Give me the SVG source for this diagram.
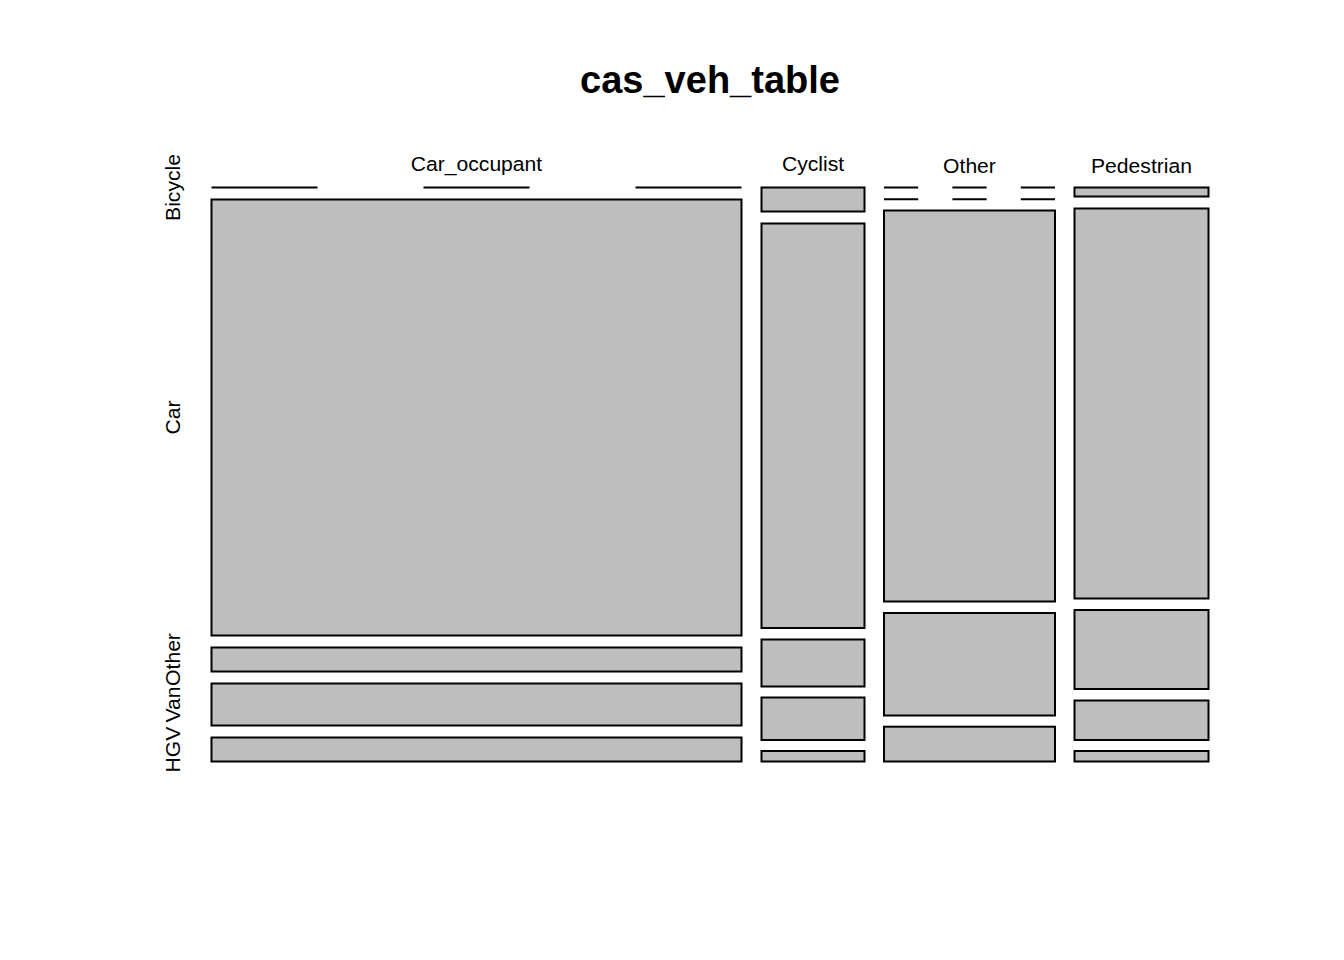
<svg xmlns="http://www.w3.org/2000/svg" width="1344" height="960" viewBox="0 0 1344 960">
<style>
.cell{fill:#BEBEBE;stroke:#000;stroke-width:2}
.zero{stroke:#000;stroke-width:2;fill:none}
.lbl{font-family:"Liberation Sans",Arial,Helvetica,sans-serif;font-size:21.12px;fill:#000}
.title{font-family:"Liberation Sans",Arial,Helvetica,sans-serif;font-size:38px;font-weight:bold;fill:#000}
</style>
<rect x="0" y="0" width="1344" height="960" fill="#fff"/>
<text class="title" x="710" y="93" text-anchor="middle">cas_veh_table</text>
<g id="x-labels">
<text class="lbl" x="476.5" y="171" text-anchor="middle">Car_occupant</text>
<text class="lbl" x="813" y="171" text-anchor="middle">Cyclist</text>
<text class="lbl" x="969.5" y="173" text-anchor="middle">Other</text>
<text class="lbl" x="1141.5" y="173" text-anchor="middle">Pedestrian</text>
</g>
<g id="y-labels">
<text class="lbl" transform="translate(179.5,187.5) rotate(-90)" text-anchor="middle">Bicycle</text>
<text class="lbl" transform="translate(179.5,417.5) rotate(-90)" text-anchor="middle">Car</text>
<text class="lbl" transform="translate(179.5,659.5) rotate(-90)" text-anchor="middle">Other</text>
<text class="lbl" transform="translate(179.5,704.5) rotate(-90)" text-anchor="middle">Van</text>
<text class="lbl" transform="translate(179.5,749.5) rotate(-90)" text-anchor="middle">HGV</text>
</g>
<g id="col-car-occupant">
<g id="co-bicycle"><path class="zero" d="M211.5 187.5H317.5M423.5 187.5H529.5M635.5 187.5H741.5"/></g>
<rect id="co-car" class="cell" x="211.5" y="199.5" width="530" height="436"/>
<rect id="co-other" class="cell" x="211.5" y="647.5" width="530" height="24"/>
<rect id="co-van" class="cell" x="211.5" y="683.5" width="530" height="42"/>
<rect id="co-hgv" class="cell" x="211.5" y="737.5" width="530" height="24"/>
</g>
<g id="col-cyclist">
<rect id="cy-bicycle" class="cell" x="761.5" y="187.5" width="103" height="24"/>
<rect id="cy-car" class="cell" x="761.5" y="223.5" width="103" height="404.5"/>
<rect id="cy-other" class="cell" x="761.5" y="639.5" width="103" height="47"/>
<rect id="cy-van" class="cell" x="761.5" y="697.5" width="103" height="42.5"/>
<rect id="cy-hgv" class="cell" x="761.5" y="751" width="103" height="10.5"/>
</g>
<g id="col-other">
<g id="ot-bicycle"><path class="zero" d="M884 187.5H918.2M952.4 187.5H986.6M1020.8 187.5H1055"/></g>
<g id="ot-car0"><path class="zero" d="M884 199.2H918.2M952.4 199.2H986.6M1020.8 199.2H1055"/></g>
<rect id="ot-r1" class="cell" x="884" y="210.5" width="171" height="391"/>
<rect id="ot-r2" class="cell" x="884" y="613" width="171" height="102.5"/>
<rect id="ot-r3" class="cell" x="884" y="726.7" width="171" height="34.8"/>
</g>
<g id="col-pedestrian">
<rect id="pe-bicycle" class="cell" x="1074.5" y="187.5" width="134" height="9"/>
<rect id="pe-car" class="cell" x="1074.5" y="208.5" width="134" height="390"/>
<rect id="pe-other" class="cell" x="1074.5" y="610" width="134" height="79"/>
<rect id="pe-van" class="cell" x="1074.5" y="700.5" width="134" height="39.5"/>
<rect id="pe-hgv" class="cell" x="1074.5" y="751" width="134" height="10.5"/>
</g>
</svg>
